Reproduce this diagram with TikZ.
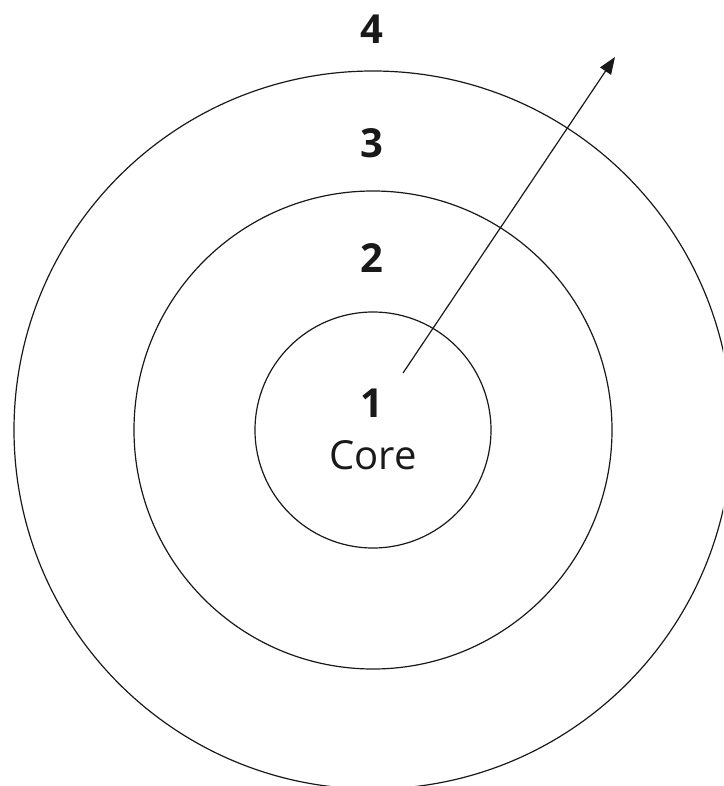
\documentclass[tikz,border=0pt]{standalone}
\usepackage{fontspec}
\setmainfont{Open Sans}
\usetikzlibrary{arrows.meta}
\begin{document}
\begin{tikzpicture}[x=1pt,y=-1pt,
  ring/.style={draw=black!90,line width=1.2pt},
  numlabel/.style={font=\fontsize{40}{40}\selectfont\bfseries,anchor=base,inner sep=0pt,text=black!90},
  corelabel/.style={font=\fontsize{40}{40}\selectfont,anchor=base,inner sep=0pt,text=black!90},
  conn/.style={draw=black!90,line width=1.2pt,-{Triangle[length=17pt,width=13pt]}}]
\clip (0,0) rectangle (723,786);
\fill[white] (0,0) rectangle (723,786);
\coordinate (c) at (373,430);
\draw[ring] (c) circle[radius=359];
\draw[ring] (c) circle[radius=239];
\draw[ring] (c) circle[radius=118];
\node[numlabel] (l4) at (372,44) {4};
\node[numlabel] (l3) at (372,158) {3};
\node[numlabel] (l2) at (372,272) {2};
\node[numlabel] (l1) at (372,417) {1};
\node[corelabel] (core) at (373,469) {Core};
\coordinate (as) at (403,373);
\coordinate (ae) at (615,57);
\draw[conn] (as) -- (ae);
\end{tikzpicture}
\end{document}
